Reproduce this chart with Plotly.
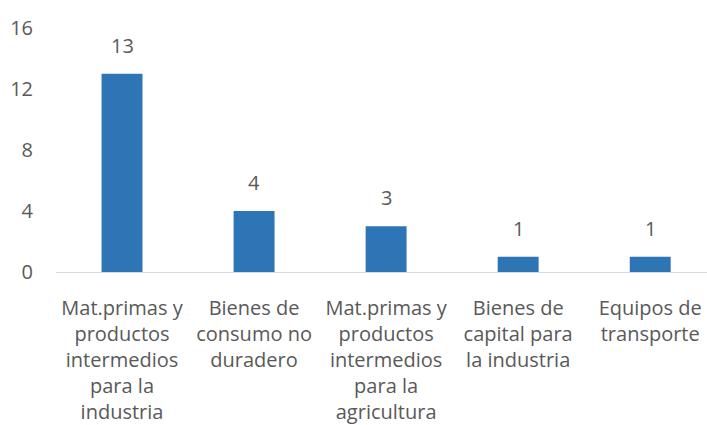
import plotly.graph_objects as go

categories = [
    "Mat.primas y<br>productos<br>intermedios<br>para la<br>industria",
    "Bienes de<br>consumo no<br>duradero",
    "Mat.primas y<br>productos<br>intermedios<br>para la<br>agricultura",
    "Bienes de<br>capital para<br>la industria",
    "Equipos de<br>transporte",
]
values = [13, 4, 3, 1, 1]
y_ticks = [0, 4, 8, 12, 16]

FONT = "Open Sans, Lato, sans-serif"
GRAY = "#595959"
SIZE = 20

fig = go.Figure(
    go.Bar(
        x=categories,
        y=values,
        marker=dict(color="#2E75B6", line=dict(width=0)),
        cliponaxis=False,
    )
)

# value labels above the bars (Excel puts them a bit higher than plotly's "outside")
for cat, val in zip(categories, values):
    fig.add_annotation(
        x=cat, y=val, text=str(val),
        showarrow=False, yanchor="bottom", yshift=13,
        font=dict(family=FONT, size=SIZE, color=GRAY),
    )

fig.update_layout(
    width=707,
    height=425,
    margin=dict(l=56, r=0, t=28, b=153),
    plot_bgcolor="white",
    paper_bgcolor="white",
    bargap=0.69,
    showlegend=False,
    font=dict(family=FONT, size=SIZE, color=GRAY),
)
fig.update_xaxes(
    range=[-0.5, 4.43],
    showline=True,
    linecolor="#D9D9D9",
    linewidth=1,
    showgrid=False,
    ticks="",
    tickangle=0,
    ticklabelstandoff=18,
    tickfont=dict(family=FONT, size=SIZE, color=GRAY),
)
fig.update_yaxes(
    range=[0, 16],
    tickvals=y_ticks,
    showgrid=False,
    showline=False,
    zeroline=False,
    ticks="outside",
    ticklen=18,
    tickcolor="white",
    tickfont=dict(family=FONT, size=SIZE, color=GRAY),
)

fig.write_html(
    "out.html",
    config={"displayModeBar": False},
    post_script="document.body.style.margin='0';",
)
